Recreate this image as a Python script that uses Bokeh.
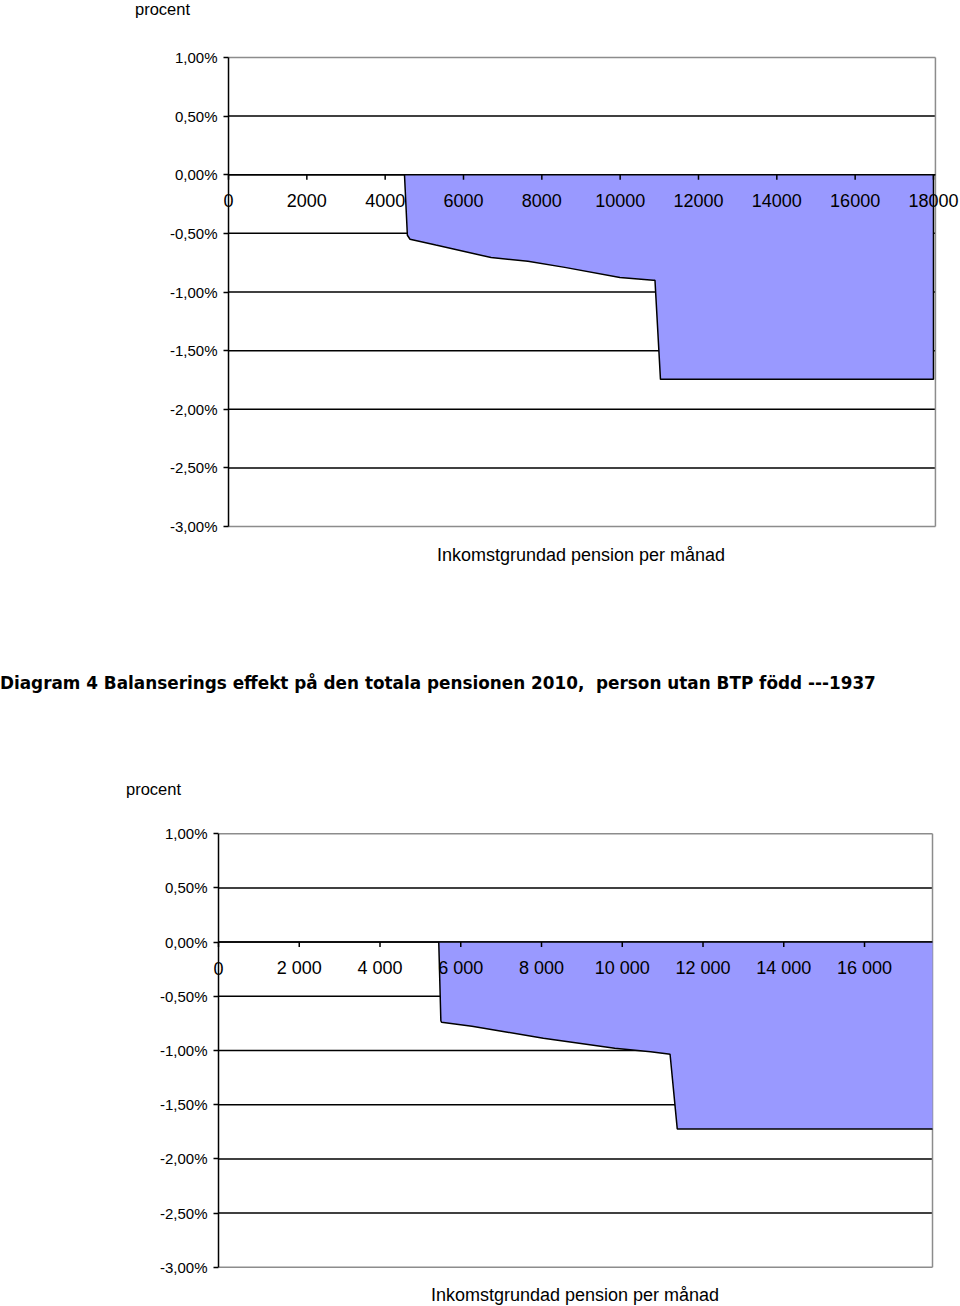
from bokeh.plotting import figure
from bokeh.models import FixedTicker, Div, Range1d, ColumnDataSource, LabelSet
from bokeh.layouts import column
from bokeh.embed import file_html
from bokeh.resources import INLINE
from bokeh.core.properties import value

# ---------------- data ----------------
heading = "Diagram 4 Balanserings effekt på den totala pensionen 2010,  person utan BTP född ---1937"
y_label_top = "procent"
x_axis_title = "Inkomstgrundad pension per månad"

y_ticks = [1.0, 0.5, 0.0, -0.5, -1.0, -1.5, -2.0, -2.5, -3.0]
y_tick_labels = ["1,00%", "0,50%", "0,00%", "-0,50%", "-1,00%", "-1,50%", "-2,00%", "-2,50%", "-3,00%"]

# chart 1 (upper)
x1_ticks = [0, 2000, 4000, 6000, 8000, 10000, 12000, 14000, 16000, 18000]
x1_tick_labels = ["0", "2000", "4000", "6000", "8000", "10000", "12000", "14000", "16000", "18000"]
x1_axis_max = 18050
inc1 = [4493, 4567, 4634, 5293, 6704, 7644, 8586, 9995, 10843, 10889, 11029, 18000, 18000]
eff1 = [0.0, -0.516, -0.55, -0.60, -0.706, -0.738, -0.79, -0.877, -0.90, -0.90, -1.745, -1.745, 0.0]

# chart 2 (lower)
x2_ticks = [0, 2000, 4000, 6000, 8000, 10000, 12000, 14000, 16000]
x2_tick_labels = ["0", "2 000", "4 000", "6 000", "8 000", "10 000", "12 000", "14 000", "16 000"]
x2_axis_max = 17684
inc2 = [5455, 5507, 5524, 6277, 7159, 8046, 8930, 9814, 10701, 11142, 11184, 11362, 17684]
eff2 = [0.0, -0.725, -0.74, -0.777, -0.832, -0.888, -0.934, -0.98, -1.011, -1.032, -1.035, -1.723, -1.725]

FILL = "#9999FF"
FONT = "Liberation Sans"
GRAY = "#8c8c8c"


def make_chart(inc, eff, xt, xtl, x_start, x_end, x_max, y_pad, height,
               mb_left, mb_right, mb_top, mb_bottom, tick_len):
    y_top, y_bot = y_ticks[0], y_ticks[-1]
    p = figure(width=960, height=height, output_backend="svg", toolbar_location=None,
               x_range=Range1d(x_start, x_end), y_range=Range1d(y_bot - y_pad, y_top + y_pad),
               min_border=0, min_border_left=mb_left, min_border_right=mb_right,
               min_border_top=mb_top, min_border_bottom=mb_bottom)
    p.frame_align = False
    p.background_fill_color = "white"
    p.border_fill_color = "white"
    p.outline_line_color = None
    p.title.visible = False

    # y axis (labels + inward ticks that end at x = 0)
    ya = p.yaxis[0]
    ya.ticker = FixedTicker(ticks=y_ticks)
    ya.major_label_overrides = dict(zip(y_ticks, y_tick_labels))
    ya.axis_line_color = None
    ya.major_tick_line_color = "black"
    ya.major_tick_line_width = 1.5
    ya.major_tick_out = 0
    ya.major_tick_in = 5
    ya.minor_tick_line_color = None
    ya.major_label_text_font = FONT
    ya.major_label_text_font_size = "15px"
    ya.major_label_text_color = "black"
    ya.major_label_standoff = 6

    p.xaxis.visible = False
    p.xgrid.grid_line_color = None
    p.ygrid.grid_line_color = None

    # plot-area gridlines (inner) and border (top / bottom / right)
    inner = y_ticks[1:-1]
    p.segment(x0=[0] * len(inner), y0=inner, x1=[x_max] * len(inner), y1=inner,
              line_color="black", line_width=1.5)
    p.segment(x0=[0, 0, x_max], y0=[y_top, y_bot, y_bot], x1=[x_max, x_max, x_max],
              y1=[y_top, y_bot, y_top], line_color=GRAY, line_width=1.5)

    # series
    p.varea(x=inc, y1=[0.0] * len(inc), y2=eff, fill_color=FILL)
    p.line(x=inc, y=eff, line_color="black", line_width=1.5)

    # y axis line and x axis line crossing at 0
    p.segment(x0=[0, 0], y0=[y_bot, 0.0], x1=[0, x_max], y1=[y_top, 0.0],
              line_color="black", line_width=1.5)
    p.segment(x0=xt, y0=[0.0] * len(xt), x1=xt, y1=[-tick_len] * len(xt),
              line_color="black", line_width=1.5)
    src = ColumnDataSource(dict(x=xt, y=[0.0] * len(xt), t=xtl))
    p.add_layout(LabelSet(x="x", y="y", text="t", source=src, text_align="center",
                          text_baseline="middle", y_offset=-26, text_font=value(FONT),
                          text_font_size=value("18px"), text_color="black"))
    return p


def text_div(html, height):
    return Div(text=html, width=960, height=height, styles={"margin": "0", "padding": "0"})


small = "font-family:'Liberation Sans';font-size:16.5px;line-height:18px;color:#000;"
xlab = ("font-family:'Liberation Sans';font-size:18px;line-height:18px;color:#000;"
        "width:960px;box-sizing:border-box;text-align:center;white-space:nowrap;")

top_div = text_div('<div style="margin:0;padding-left:135px;' + small + '">' + y_label_top + '</div>', 30)

p1 = make_chart(inc1, eff1, x1_ticks, x1_tick_labels, -128, 18690, x1_axis_max, 0.017, 510,
                223, 0, 25, 12, 0.043)

mid_div = text_div(
    '<div style="margin-top:6px;padding-left:202px;' + xlab + '">' + x_axis_title + '</div>'
    '<div style="margin-top:108px;font-family:\'DejaVu Sans\';font-weight:bold;'
    'font-size:16.85px;line-height:22px;white-space:pre;color:#000;">' + heading + '</div>'
    '<div style="margin-top:86px;padding-left:126px;' + small + '">' + y_label_top + '</div>', 260)

p2 = make_chart(inc2, eff2, x2_ticks, x2_tick_labels, -124, 17882, x2_axis_max, 0.02, 481,
                213, 20, 31, 12, 0.046)

bottom_div = text_div('<div style="margin-top:5px;padding-left:190px;' + xlab + '">' + x_axis_title + '</div>', 25)

layout = column(top_div, p1, mid_div, p2, bottom_div, spacing=0)
open("out.html", "w").write(file_html(layout, INLINE))
